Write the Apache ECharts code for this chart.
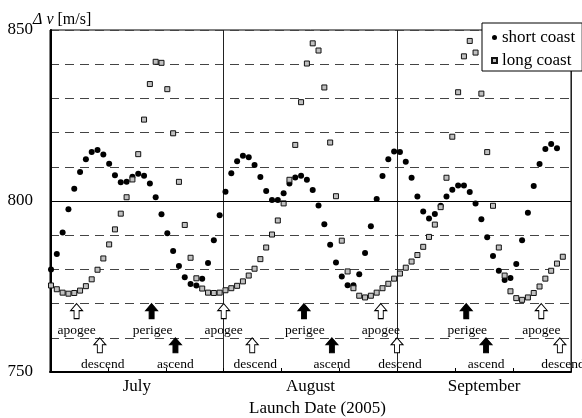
<!DOCTYPE html>
<html><head><meta charset="utf-8">
<script src="https://cdn.jsdelivr.net/npm/echarts@6/dist/echarts.min.js"></script>
<style>html,body{margin:0;padding:0;background:#fff}#c{width:582px;height:418px}</style>
</head><body><div id="c"></div>
<script>
// ---- data (x = day index from 1 July, y = delta-v in m/s) ----
const months = ['July', 'August', 'September'];
const yTickLabels = [750, 800, 850];
const shortCoast = [
  780.0, 784.5, 790.8, 797.6, 803.6, 808.5, 812.2, 814.3, 814.9, 813.6,
  810.9, 807.5, 805.5, 805.6, 807.1, 808.0, 807.4, 805.1, 801.1, 796.1,
  790.6, 785.4, 781.0, 777.7, 775.7, 775.3, 777.3, 781.9, 788.5, 795.8,
  802.7, 808.1, 811.6, 813.2, 812.8, 810.5, 807.0, 802.9, 800.3, 800.3,
  802.3, 805.1, 806.9, 807.4, 806.2, 803.2, 798.7, 793.2, 787.2, 782.0,
  777.9, 775.4, 775.4, 778.6, 784.8, 792.6, 800.6, 807.3, 812.2, 814.5,
  814.3, 811.5, 806.8, 801.3, 796.9, 794.9, 796.2, 798.6, 801.3, 803.3,
  804.5, 804.5, 802.6, 799.3, 794.7, 789.4, 783.9, 779.6, 776.9, 777.5,
  781.6, 788.5, 796.6, 804.4, 810.8, 815.2, 816.7, 815.4
];
const longCoast = [
  775.3, 774.2, 773.2, 772.9, 773.1, 773.8, 775.1, 777.1, 779.9, 783.2,
  787.3, 791.7, 796.3, 801.1, 806.3, 813.7, 823.8, 834.2, 840.7, 840.4,
  832.7, 819.8, 805.6, 793.0, 783.4, 777.4, 774.4, 773.2, 773.1, 773.2,
  773.9, 774.5, 775.2, 776.5, 778.2, 780.2, 783.0, 786.4, 790.2, 794.3,
  799.3, 806.2, 816.4, 828.9, 840.2, 846.1, 844.0, 833.2, 817.1, 801.4,
  788.4, 779.4, 774.5, 772.3, 771.8, 772.3, 773.2, 774.5, 775.8, 777.3,
  778.8, 780.5, 782.3, 784.2, 786.6, 789.5, 793.1, 798.2, 806.8, 818.8,
  831.8, 842.3, 846.8, 843.4, 831.4, 814.3, 798.6, 786.4, 778.2, 773.6,
  771.6, 771.1, 771.8, 773.1, 775.0, 777.3, 779.6, 781.7, 783.7
];
const apogeeDays  = [4.4, 29.7, 56.7, 84.3];
const descendDays = [8.4, 34.6, 59.5, 87.5];
const perigeeDays = [17.3, 43.5, 71.4];
const ascendDays  = [21.4, 48.3, 74.8];

// ---- layout / style ----
const FONT = '"Liberation Serif", "Times New Roman", serif';
const X_MIN = -0.17, X_MAX = 89.41;
const UPPER_TIP = 770, LOWER_TIP = 760;
const ARROW = 'path://M6,0 L12,7 L8.5,7 L8.5,15 L3.5,15 L3.5,7 L0,7 Z';

const pairs = arr => arr.map((v, i) => [i, v]);
function arrowSeries(name, days, tip, filled, dx) {
  return {
    type: 'scatter', name: name, xAxisIndex: 0, yAxisIndex: 0,
    data: days.map(d => [d, tip]),
    symbol: ARROW, symbolSize: [12, 15], symbolOffset: [0, 7.5],
    itemStyle: { color: filled ? '#000' : '#fff', borderColor: '#000', borderWidth: 1, opacity: 1 },
    label: { show: true, position: 'bottom', distance: 4, formatter: name,
             fontFamily: FONT, fontSize: 13.5, color: '#000', offset: [dx, 0] },
    silent: true, clip: false, z: 5
  };
}

const chart = echarts.init(document.getElementById('c'), null, { renderer: 'canvas' });
chart.setOption({
  animation: false,
  backgroundColor: '#fff',
  title: {
    text: '{i|Δ v} [m/s]', left: 33, top: 12, padding: 0,
    textStyle: { fontFamily: FONT, fontSize: 16, fontWeight: 'normal', color: '#000',
      rich: { i: { fontFamily: FONT, fontSize: 16, fontStyle: 'italic', color: '#000' } } }
  },
  grid: { left: 50, right: 11, top: 30, bottom: 46, show: true, borderColor: '#000', borderWidth: 1,
          containLabel: false, outerBoundsMode: 'none' },
  legend: {
    data: [{ name: 'short coast', icon: 'circle' }, { name: 'long coast', icon: 'rect' }],
    orient: 'vertical', left: 482, top: 23, padding: [6, 7, 2, 9], itemGap: 6,
    itemWidth: 5, itemHeight: 5, backgroundColor: '#fff', borderColor: '#000', borderWidth: 1,
    textStyle: { fontFamily: FONT, fontSize: 17, color: '#000' }, z: 10
  },
  xAxis: [
    { type: 'value', min: X_MIN, max: X_MAX, interval: (X_MAX - X_MIN) / 9, position: 'bottom',
      axisLine: { show: true, lineStyle: { color: '#000', width: 2 } },
      axisTick: { show: true, inside: true, length: 4, lineStyle: { color: '#000', width: 1 } },
      axisLabel: { show: false }, splitLine: { show: false } },
    { type: 'category', data: months, boundaryGap: true, position: 'bottom',
      axisLine: { show: false }, axisTick: { show: false },
      axisLabel: { fontFamily: FONT, fontSize: 17, color: '#000', margin: 6 },
      splitLine: { show: true, lineStyle: { color: '#222', width: 1 } },
      name: 'Launch Date (2005)', nameLocation: 'middle', nameGap: 28,
      nameTextStyle: { fontFamily: FONT, fontSize: 17, color: '#000', padding: [0, 0, 0, 14] } }
  ],
  yAxis: {
    type: 'value', min: 750, max: 850, interval: 10,
    axisLine: { show: true, lineStyle: { color: '#000', width: 2 } },
    axisTick: { show: false },
    axisLabel: { formatter: v => (yTickLabels.indexOf(v) >= 0 ? String(v) : ''),
      fontFamily: FONT, fontSize: 17, color: '#000', margin: 17 },
    splitLine: { show: true, lineStyle: { type: [9, 6], color: '#444', width: 1 } }
  },
  series: [
    { type: 'scatter', name: 'short coast', xAxisIndex: 0, data: pairs(shortCoast),
      symbol: 'circle', symbolSize: 6, itemStyle: { color: '#000', opacity: 1 }, z: 3,
      markLine: { silent: true, symbol: 'none', label: { show: false },
        lineStyle: { type: 'solid', color: '#000', width: 1 }, data: [{ yAxis: 800 }] } },
    { type: 'scatter', name: 'long coast', xAxisIndex: 0, data: pairs(longCoast),
      symbol: 'rect', symbolSize: 5,
      itemStyle: { color: '#c0c0c0', borderColor: '#111', borderWidth: 1, opacity: 1 }, z: 4 },
    arrowSeries('apogee', apogeeDays, UPPER_TIP, false, 0),
    arrowSeries('perigee', perigeeDays, UPPER_TIP, true, 1),
    arrowSeries('descend', descendDays, LOWER_TIP, false, 3),
    arrowSeries('ascend', ascendDays, LOWER_TIP, true, 0)
  ]
});
</script></body></html>
